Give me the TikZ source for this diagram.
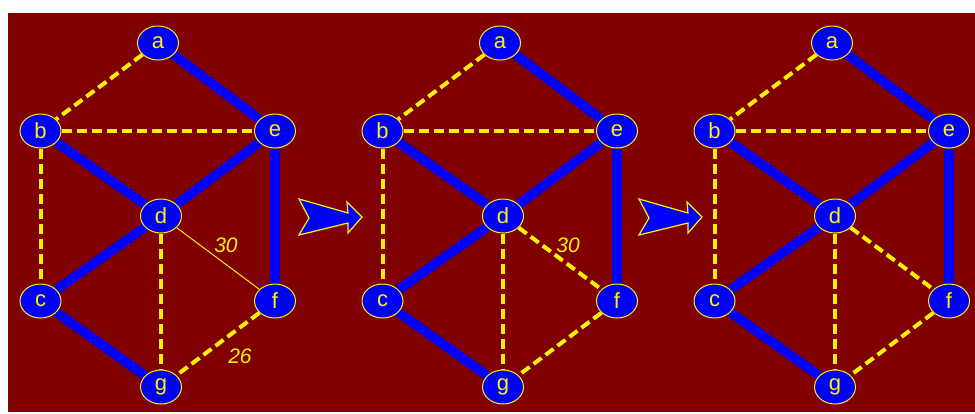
\documentclass[tikz,border=0pt]{standalone}
\usepackage{fontspec}
\setmainfont{Liberation Sans}
\usetikzlibrary{shapes.geometric,backgrounds}
\definecolor{bgred}{RGB}{128,0,0}
\newcommand\mygraphnodes[2]{%
  \begin{scope}[xshift=#2pt]
    \node[vtx] (a#1) at (158,43) {a};
    \node[vtx] (b#1) at (40.5,131) {b};
    \node[vtx] (e#1) at (275,131) {e};
    \node[vtx] (d#1) at (161,216) {d};
    \node[vtx] (c#1) at (40.5,301) {c};
    \node[vtx] (f#1) at (275,301) {f};
    \node[vtx] (g#1) at (161,387) {g};
  \end{scope}}
\newcommand\mygraphedges[1]{%
  \draw[tree] (a#1) -- (e#1);
  \draw[tree] (b#1) -- (d#1);
  \draw[tree] (e#1) -- (d#1);
  \draw[tree] (e#1) -- (f#1);
  \draw[tree] (d#1) -- (c#1);
  \draw[tree] (c#1) -- (g#1);
  \draw[cand] (a#1) -- (b#1);
  \draw[cand] (b#1) -- (e#1);
  \draw[cand] (b#1) -- (c#1);
  \draw[cand] (d#1) -- (g#1);
  \draw[cand] (f#1) -- (g#1);}
\begin{document}
\begin{tikzpicture}[x=1pt,y=-1pt,
  vtx/.style={ellipse,draw=yellow,fill=blue,line width=1pt,minimum width=41pt,
    minimum height=34pt,inner sep=0pt,text=yellow,font=\fontsize{22}{26}\selectfont},
  tree/.style={draw=blue,line width=9.5pt},
  cand/.style={draw=yellow,line width=4pt,dash pattern=on 10pt off 5pt},
  thinedge/.style={draw=yellow,line width=1pt},
  wlab/.style={text=yellow,inner sep=0pt,font=\fontsize{21}{25}\selectfont\itshape},
  bigarrow/.style={fill=blue,draw=yellow,line width=1.2pt,line join=miter}]
  \useasboundingbox (0,0) rectangle (975,413);
  \mygraphnodes{1}{0}
  \mygraphnodes{2}{342}
  \mygraphnodes{3}{674}
  \begin{scope}[on background layer]
    \fill[white] (0,0) rectangle (975,413);
    \fill[bgred] (8,13) rectangle (975,412);
    \mygraphedges{1}
    \draw[thinedge] (d1) -- (f1);
    \mygraphedges{2}
    \draw[cand] (d2) -- (f2);
    \mygraphedges{3}
    \draw[cand] (d3) -- (f3);
  \end{scope}
  \node[wlab] (w30a) at (226,245) {30};
  \node[wlab] (w26) at (240,356.5) {26};
  \node[wlab] (w30b) at (568,245.5) {30};
  \foreach \s in {0,340} {
    \begin{scope}[xshift=\s pt]
      \draw[bigarrow] (299,199) -- (348,213) -- (347,202) -- (362,217) -- (348,233)
        -- (348,223) -- (299,235) -- (309,218) -- cycle;
    \end{scope}
  }
\end{tikzpicture}
\end{document}
